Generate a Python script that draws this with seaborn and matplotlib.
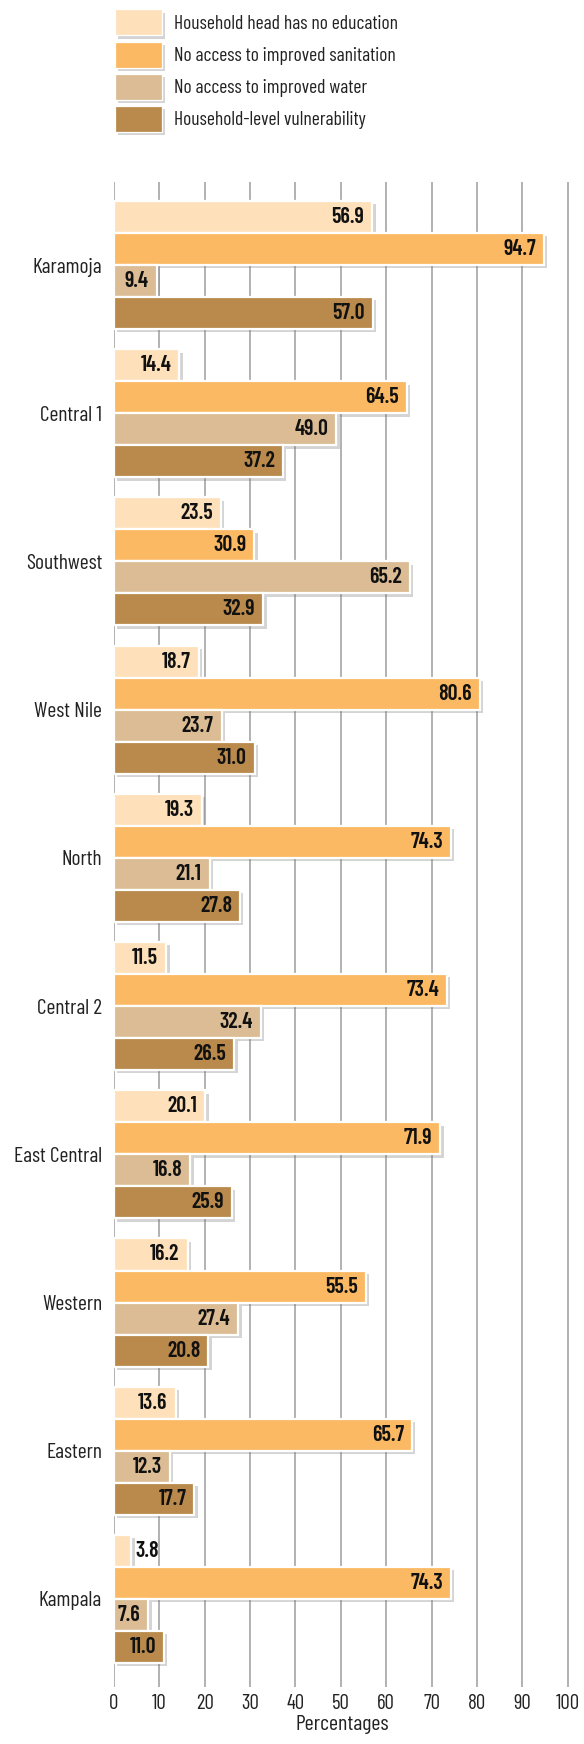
import matplotlib
matplotlib.use("Agg")
import matplotlib.pyplot as plt
import matplotlib.patheffects as pe
import seaborn as sns
import pandas as pd

regions = ["Karamoja", "Central 1", "Southwest", "West Nile", "North",
           "Central 2", "East Central", "Western", "Eastern", "Kampala"]
indicators = ["Household head has no education",
              "No access to improved sanitation",
              "No access to improved water",
              "Household-level vulnerability"]
no_education = [56.9, 14.4, 23.5, 18.7, 19.3, 11.5, 20.1, 16.2, 13.6, 3.8]
no_sanitation = [94.7, 64.5, 30.9, 80.6, 74.3, 73.4, 71.9, 55.5, 65.7, 74.3]
no_water = [9.4, 49.0, 65.2, 23.7, 21.1, 32.4, 16.8, 27.4, 12.3, 7.6]
vulnerability = [57.0, 37.2, 32.9, 31.0, 27.8, 26.5, 25.9, 20.8, 17.7, 11.0]
x_ticks = [0, 10, 20, 30, 40, 50, 60, 70, 80, 90, 100]
colors = ["#FEE1BA", "#FCB963", "#DBBC94", "#B98A4C"]

series = [no_education, no_sanitation, no_water, vulnerability]
rows = []
for ind, vals in zip(indicators, series):
    for reg, v in zip(regions, vals):
        rows.append({"region": reg, "indicator": ind, "value": v})
df = pd.DataFrame(rows)

sns.set_style("white")
plt.rcParams["font.family"] = ["Barlow Condensed", "DejaVu Sans"]

W, H = 584, 1744
DPI = 100
fig = plt.figure(figsize=(W / DPI, H / DPI), dpi=DPI)
renderer = fig.canvas.get_renderer()


def fit_size(text, target_px, weight="normal"):
    t = fig.text(0, 0, text, fontsize=10, fontweight=weight)
    w = t.get_window_extent(renderer).width
    t.remove()
    return 10 * target_px / w


VAL_W = 600
fs_cat = fit_size("East Central", 88)
fs_tick = fit_size("100", 24)
fs_xlab = fit_size("Percentages", 94)
fs_val = fit_size("31.0", 30, VAL_W)
fs_leg = fit_size("Household head has no education", 224)

ax_left, ax_right = 114 / W, 570 / W
ax_top, ax_bot = 1 - 182.3 / H, 1 - 1686.7 / H
ax = fig.add_axes([ax_left, ax_bot, ax_right - ax_left, ax_top - ax_bot])

sns.barplot(data=df, x="value", y="region", hue="indicator", orient="h",
            order=regions, hue_order=indicators, palette=colors, saturation=1,
            width=0.864, edgecolor="white", linewidth=1.6, ax=ax, zorder=3)

shadow = [pe.SimplePatchShadow(offset=(2.4, -2.4), shadow_rgbFace="0.45", alpha=0.3),
          pe.Normal()]

for cont in ax.containers:
    for bar in cont:
        bar.set_path_effects(shadow)
        v = bar.get_width()
        yc = bar.get_y() + bar.get_height() / 2
        if v < 5:
            ax.annotate(f"{v:.1f}", xy=(v, yc), xytext=(4, 0), textcoords="offset pixels",
                        ha="left", va="center", fontsize=fs_val, fontweight=VAL_W,
                        color="#111111", zorder=5)
        else:
            ax.annotate(f"{v:.1f}", xy=(v, yc), xytext=(-8, 0), textcoords="offset pixels",
                        ha="right", va="center", fontsize=fs_val, fontweight=VAL_W,
                        color="#111111", zorder=5)

ax.set_xlim(0, 100.5)
ax.set_ylim(9.592, -0.558)
ax.set_xticks(x_ticks)
ax.set_xticklabels([str(t) for t in x_ticks])
ax.grid(axis="x", color="#9c9c9c", linewidth=1.1, zorder=0)
ax.grid(axis="y", visible=False)
ax.set_axisbelow(True)
sns.despine(ax=ax, left=True, bottom=True)
ax.tick_params(axis="x", length=0, pad=5, labelsize=fs_tick, labelcolor="#222222")
ax.tick_params(axis="y", length=0, pad=8.5, labelsize=fs_cat, labelcolor="#222222")
ax.set_ylabel("")
ax.set_xlabel("Percentages", fontsize=fs_xlab, color="#222222", labelpad=1.5)

fs_leg_px = fs_leg * DPI / 72
patch_h = 26.0
box_h = (patch_h - 0.245 * fs_leg_px) / 0.65
handles, labels = ax.get_legend_handles_labels()
ax.get_legend().remove()
leg = fig.legend(handles, labels, loc="upper left",
                 bbox_to_anchor=(115 / W, 1 - 9.5 / H), frameon=False,
                 fontsize=fs_leg, handlelength=47 / fs_leg_px, handleheight=box_h / fs_leg_px,
                 handletextpad=11.5 / fs_leg_px, labelspacing=(38.8 - box_h) / fs_leg_px,
                 borderpad=0, borderaxespad=0)
for h in leg.legend_handles:
    h.set_edgecolor("white")
    h.set_linewidth(0.9)
    h.set_path_effects(shadow)
for t in leg.get_texts():
    t.set_color("#222222")

fig.savefig("out.png", dpi=DPI)
